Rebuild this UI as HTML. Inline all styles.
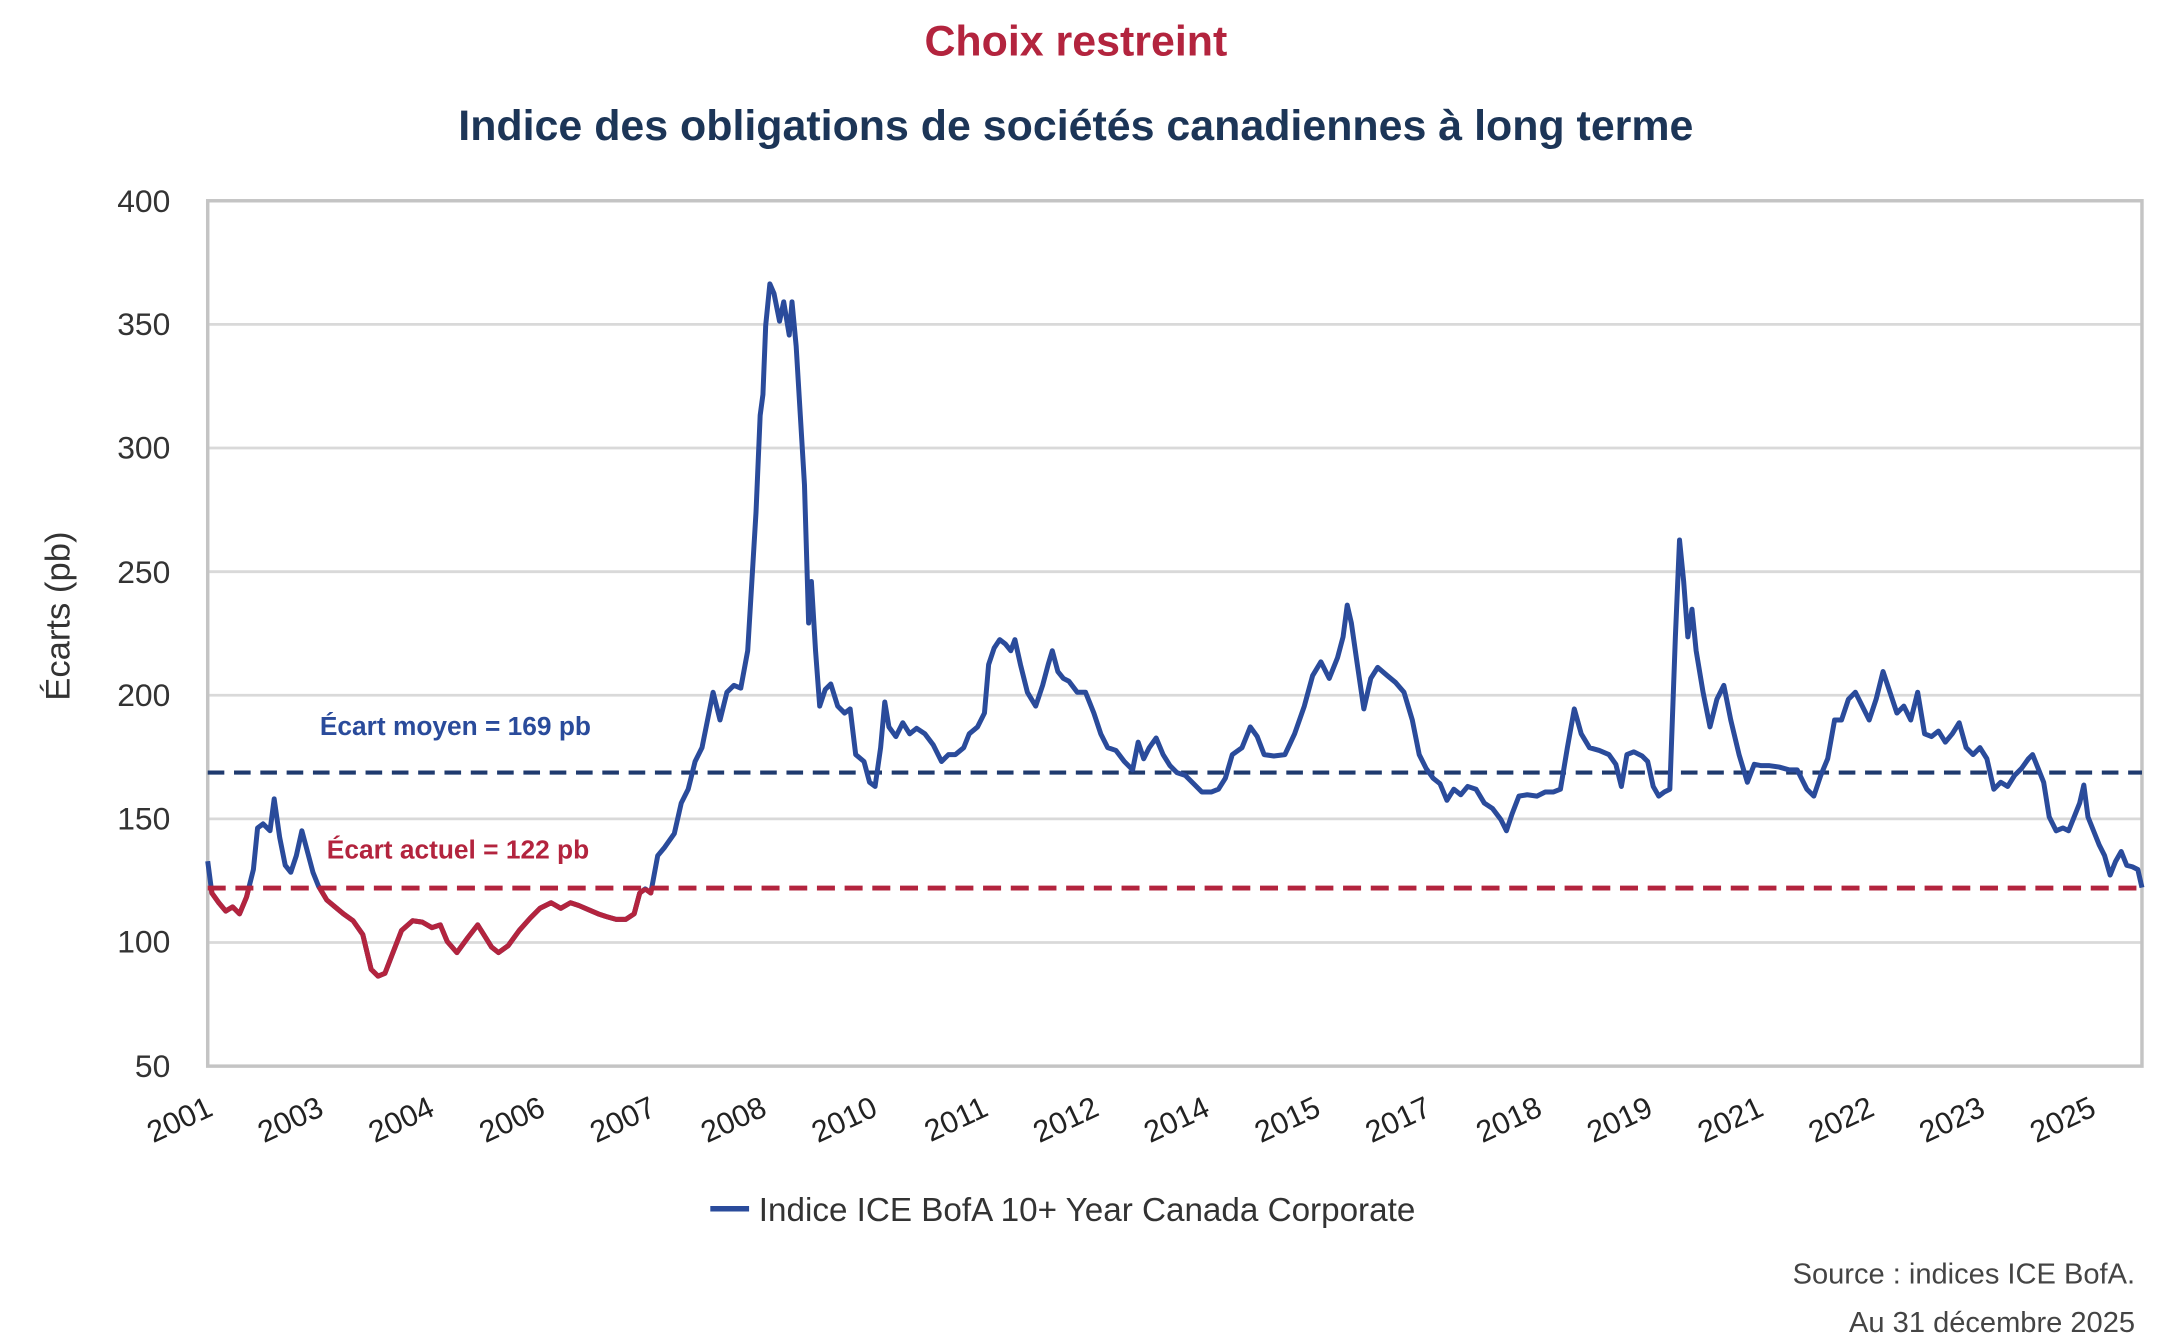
<!DOCTYPE html>
<html><head><meta charset="utf-8"><style>
html,body{margin:0;padding:0;background:#fff;}
svg{display:block;}
text{font-family:"Liberation Sans",sans-serif;}
</style></head><body>
<svg width="2160" height="1340" viewBox="0 0 1560 967.8" xmlns="http://www.w3.org/2000/svg">
<rect width="1560" height="968" fill="#fff"/>
<text x="777" y="40" text-anchor="middle" font-size="31" font-weight="bold" fill="#b3243e">Choix restreint</text>
<text x="777" y="101" text-anchor="middle" font-size="31" font-weight="bold" fill="#1c3557">Indice des obligations de sociétés canadiennes à long terme</text>
<g stroke="#d9d9d9" stroke-width="2">
<line x1="150" y1="234.3" x2="1547" y2="234.3"/>
<line x1="150" y1="323.6" x2="1547" y2="323.6"/>
<line x1="150" y1="412.9" x2="1547" y2="412.9"/>
<line x1="150" y1="502.1" x2="1547" y2="502.1"/>
<line x1="150" y1="591.4" x2="1547" y2="591.4"/>
<line x1="150" y1="680.7" x2="1547" y2="680.7"/>
</g>
<rect x="150" y="145" width="1397" height="625" fill="none" stroke="#c4c4c4" stroke-width="2.5"/>
<g font-size="23" fill="#333" text-anchor="end">
<text x="123" y="153">400</text><text x="123" y="242">350</text><text x="123" y="331">300</text>
<text x="123" y="421">250</text><text x="123" y="510">200</text><text x="123" y="599">150</text>
<text x="123" y="688">100</text><text x="123" y="778">50</text>
</g>
<text transform="translate(50,445) rotate(-90)" text-anchor="middle" font-size="25" fill="#333">Écarts (pb)</text>
<g font-size="22" fill="#222" text-anchor="end">
<g transform="translate(155,805) rotate(-25)"><text>2001</text></g>
<g transform="translate(235,805) rotate(-25)"><text>2003</text></g>
<g transform="translate(315,805) rotate(-25)"><text>2004</text></g>
<g transform="translate(395,805) rotate(-25)"><text>2006</text></g>
<g transform="translate(475,805) rotate(-25)"><text>2007</text></g>
<g transform="translate(555,805) rotate(-25)"><text>2008</text></g>
<g transform="translate(635,805) rotate(-25)"><text>2010</text></g>
<g transform="translate(715,805) rotate(-25)"><text>2011</text></g>
<g transform="translate(795,805) rotate(-25)"><text>2012</text></g>
<g transform="translate(875,805) rotate(-25)"><text>2014</text></g>
<g transform="translate(955,805) rotate(-25)"><text>2015</text></g>
<g transform="translate(1035,805) rotate(-25)"><text>2017</text></g>
<g transform="translate(1115,805) rotate(-25)"><text>2018</text></g>
<g transform="translate(1195,805) rotate(-25)"><text>2019</text></g>
<g transform="translate(1275,805) rotate(-25)"><text>2021</text></g>
<g transform="translate(1355,805) rotate(-25)"><text>2022</text></g>
<g transform="translate(1435,805) rotate(-25)"><text>2023</text></g>
<g transform="translate(1515,805) rotate(-25)"><text>2025</text></g>
</g>
<line x1="150" y1="558" x2="1547" y2="558" stroke="#1f3a6e" stroke-width="3" stroke-dasharray="12,7"/>
<defs><clipPath id="lo"><rect x="148" y="641" width="335" height="130"/></clipPath>
<polyline id="ser" fill="none" stroke-width="3.6" stroke-linejoin="round" points="150,622 153,645 158,652 163,658 168,655 173,660 178,648 183,628 186,598 190,595 195,600 198,577 202,605 206,625 210,630 214,618 218,600 222,615 226,630 230,640 236,650 242,655 248,660 255,665 262,675 268,700 273,705 278,703 283,690 290,672 298,665 305,666 312,670 318,668 323,680 330,688 338,677 345,668 350,676 355,684 360,688 367,683 375,672 383,663 390,656 398,652 405,656 412,652 418,654 425,657 432,660 438,662 445,664 452,664 458,660 462,645 466,642 470,645 475,618 480,612 487,602 492,580 497,570 502,550 507,540 512,515 515,500 520,520 525,500 530,495 535,497 540,470 543,420 546,370 549,300 551,285 553,235 556,205 559,212 563,232 566,218 570,242 572,218 575,250 578,300 581,350 584,450 586,420 589,470 592,510 596,498 600,494 605,510 610,515 614,512 618,545 624,550 628,565 632,568 636,540 639,507 642,525 647,532 652,522 657,530 662,526 668,530 674,538 680,550 685,545 690,545 696,540 700,530 706,525 711,515 714,480 718,468 722,462 726,465 730,470 733,462 737,480 742,500 748,510 753,495 757,480 760,470 764,485 768,490 772,492 778,500 784,500 790,515 795,530 800,540 806,542 812,550 818,556 822,536 826,548 830,540 835,533 840,545 845,553 850,558 856,560 862,566 868,572 875,572 880,570 885,562 890,545 897,540 903,525 908,532 913,545 920,546 928,545 935,530 942,510 948,488 954,478 960,490 966,475 970,460 973,437 976,450 980,478 985,512 990,490 995,482 1002,488 1008,493 1014,500 1020,520 1025,545 1030,555 1035,562 1040,566 1045,578 1050,570 1055,574 1060,568 1066,570 1072,580 1078,584 1084,592 1088,600 1092,588 1097,575 1103,574 1110,575 1116,572 1122,572 1127,570 1132,540 1137,512 1142,530 1148,540 1155,542 1162,545 1167,552 1171,568 1175,545 1180,543 1186,546 1190,550 1194,568 1198,575 1202,572 1206,570 1210,460 1213,390 1216,420 1219,460 1222,440 1225,470 1230,500 1235,525 1240,505 1245,495 1250,520 1256,545 1262,565 1267,552 1272,553 1278,553 1285,554 1292,556 1298,556 1305,570 1310,575 1315,560 1320,548 1325,520 1330,520 1335,505 1340,500 1345,510 1350,520 1355,505 1360,485 1365,500 1370,515 1375,510 1380,520 1385,500 1390,530 1395,532 1400,528 1405,536 1410,530 1415,522 1420,540 1425,545 1430,540 1435,548 1440,570 1445,565 1450,568 1455,560 1460,555 1465,548 1468,545 1472,555 1476,565 1480,590 1485,600 1490,598 1494,600 1498,590 1502,580 1505,567 1508,590 1512,600 1516,610 1520,618 1524,632 1528,622 1532,615 1536,625 1540,626 1544,628 1547,641"/>
</defs>
<use href="#ser" stroke="#2a4b9b"/>
<use href="#ser" stroke="#b3243e" clip-path="url(#lo)"/>
<line x1="150" y1="641.4" x2="1547" y2="641.4" stroke="#b3243e" stroke-width="3.5" stroke-dasharray="13,7"/>
<text x="231" y="531" font-size="19" font-weight="bold" fill="#2a4b9b">Écart moyen = 169 pb</text>
<text x="236" y="620" font-size="19" font-weight="bold" fill="#b3243e">Écart actuel = 122 pb</text>
<line x1="513" y1="873" x2="541" y2="873" stroke="#2a4b9b" stroke-width="4"/>
<text x="548" y="882" font-size="24" fill="#333">Indice ICE BofA 10+ Year Canada Corporate</text>
<text x="1542" y="927" text-anchor="end" font-size="21" fill="#444">Source : indices ICE BofA.</text>
<text x="1542" y="962" text-anchor="end" font-size="21" fill="#444">Au 31 décembre 2025</text>
</svg>
</body></html>
